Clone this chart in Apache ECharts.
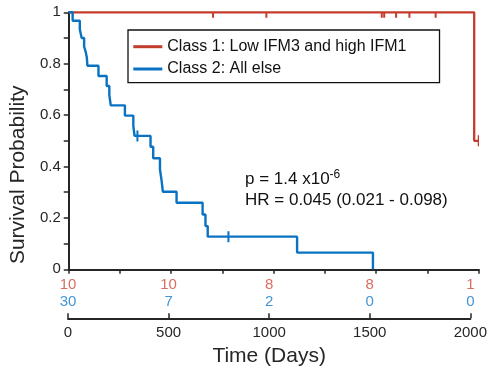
<!DOCTYPE html>
<html>
<head>
<meta charset="utf-8">
<script src="https://cdn.jsdelivr.net/npm/echarts@6/dist/echarts.min.js"></script>
<style>
html,body{margin:0;padding:0;background:#fff;}
#chart{width:490px;height:370px;}
</style>
</head>
<body>
<div id="chart"></div>
<script>
// ---- data ----
var class1Name = 'Class 1: Low IFM3 and high IFM1';
var class2Name = 'Class 2: All else';
// Kaplan-Meier step points [time (days), survival]
var class1Curve = [[0, 1], [1978, 0.5], [2000, 0.5]];
var class2Curve = [
  [0, 1], [19, 0.967], [54, 0.933], [63, 0.9], [75, 0.867], [83, 0.845], [88, 0.825], [91, 0.792],
  [145, 0.752], [185, 0.713], [198, 0.678], [205, 0.638], [274, 0.598], [315, 0.558], [321, 0.519],
  [399, 0.477], [412, 0.432], [445, 0.389], [453, 0.345], [459, 0.302], [526, 0.259],
  [653, 0.213], [667, 0.168], [678, 0.127], [1114, 0.065], [1484, 0]
];
// censored observations [time, survival]
var class1Censor = [[704, 1], [964, 1], [1527, 1], [1539, 1], [1597, 1], [1662, 1], [1790, 1], [2000, 0.5]];
var class2Censor = [[335, 0.519], [779, 0.127]];
// number at risk table
var riskTimes = [0, 500, 1000, 1500, 2000];
var riskClass1 = [10, 10, 8, 8, 1];
var riskClass2 = [30, 7, 2, 0, 0];
var riskRows = ['Class 2', 'Class 1'];

var RED = '#c43c2c';
var BLUE = '#0a72c2';
var AX = '#262626';
var FONT = '"Liberation Sans", Arial, sans-serif';

function censorSeries(name, data, color) {
  return {
    name: name, type: 'custom', xAxisIndex: 0, yAxisIndex: 0, clip: true,
    data: data, encode: {x: 0, y: 1}, z: 3,
    renderItem: function (params, api) {
      var p = api.coord([api.value(0), api.value(1)]);
      return {type: 'line', shape: {x1: p[0], y1: p[1] - 5.5, x2: p[0], y2: p[1] + 5.5},
        style: {stroke: color, lineWidth: 2}};
    }
  };
}
function riskSeries(name, row, values, color) {
  return {
    name: name, type: 'scatter', xAxisIndex: 1, yAxisIndex: 1, clip: false,
    symbolSize: 1, itemStyle: {color: 'transparent'},
    data: riskTimes.map(function (t, i) { return [t, row, values[i]]; }),
    label: {show: true, position: 'inside', formatter: function (p) { return String(p.value[2]); },
      color: color, fontSize: 15, fontFamily: FONT},
    emphasis: {disabled: true}
  };
}

var chart = echarts.init(document.getElementById('chart'), null, {renderer: 'canvas'});
chart.setOption({
  animation: false,
  textStyle: {fontFamily: FONT},
  grid: [
    {left: 68, right: 11.3, top: 12.3, height: 257},
    {left: 68, right: 11.3, top: 276.6, height: 33.4}
  ],
  legend: {
    data: [class1Name, class2Name],
    orient: 'vertical', left: 128, top: 30,
    padding: [8.7, 33, 5.7, 5.3], itemGap: 6.3,
    itemWidth: 29, itemHeight: 3, icon: 'rect',
    backgroundColor: '#fff', borderColor: '#111', borderWidth: 1.3,
    textStyle: {fontSize: 16, lineHeight: 16, color: '#111', fontFamily: FONT},
    selectedMode: false
  },
  xAxis: [
    {type: 'value', gridIndex: 0, min: 0, max: 2000, interval: 250,
      axisLine: {show: true, onZero: false, lineStyle: {color: AX, width: 2}},
      axisTick: {show: true, length: 4.5, lineStyle: {color: AX, width: 1.5}},
      axisLabel: {show: false}, splitLine: {show: false}},
    {type: 'value', gridIndex: 1, min: 0, max: 2000, interval: 500, offset: 8.3,
      axisLine: {show: true, onZero: false, lineStyle: {color: AX, width: 2}},
      axisTick: {show: true, inside: true, length: 5, lineStyle: {color: AX, width: 1.5}},
      axisLabel: {show: true, margin: 7, fontSize: 15, color: AX, fontFamily: FONT,
        formatter: function (v) { return String(v); }},
      splitLine: {show: false},
      name: 'Time (Days)', nameLocation: 'middle', nameGap: 27,
      nameTextStyle: {fontSize: 21, color: AX, fontFamily: FONT}}
  ],
  yAxis: [
    {type: 'value', gridIndex: 0, min: 0, max: 1, interval: 0.1,
      axisLine: {show: true, lineStyle: {color: AX, width: 2}},
      axisTick: {show: true, length: 5, lineStyle: {color: AX, width: 1.5}},
      axisLabel: {margin: 8, fontSize: 15, color: AX, fontFamily: FONT,
        formatter: function (v) { var k = Math.round(v * 10); return k % 2 === 0 ? String(k / 10) : ''; }},
      splitLine: {show: false},
      name: 'Survival Probability', nameLocation: 'middle', nameGap: 36,
      nameTextStyle: {fontSize: 21, color: AX, fontFamily: FONT, padding: [0, 68, 0, 0]}},
    {type: 'category', gridIndex: 1, data: riskRows, show: false}
  ],
  series: [
    {name: class1Name, type: 'line', step: 'end', data: class1Curve, showSymbol: false, symbol: 'none',
      clip: false, color: RED, lineStyle: {color: RED, width: 2.3}, z: 2},
    {name: class2Name, type: 'line', step: 'end', data: class2Curve, showSymbol: false, symbol: 'none',
      clip: false, color: BLUE, lineStyle: {color: BLUE, width: 2.4}, z: 2},
    censorSeries('c1censor', class1Censor, RED),
    censorSeries('c2censor', class2Censor, BLUE),
    riskSeries('risk1', 'Class 1', riskClass1, '#cf4a37'),
    riskSeries('risk2', 'Class 2', riskClass2, '#1479c9')
  ],
  graphic: [
    {type: 'text', left: 245, top: 168.7, z: 10,
      style: {text: '{a|p = 1.4 x10}{s|-6}', fill: '#111',
        rich: {a: {fontSize: 17, fontFamily: FONT, fill: '#111', padding: [2, 0, 0, 0]},
               s: {fontSize: 12, fontFamily: FONT, fill: '#111', verticalAlign: 'top'}}}},
    {type: 'text', left: 245, top: 191.8, z: 10,
      style: {text: 'HR = 0.045 (0.021 - 0.098)', fill: '#111', fontSize: 17, fontFamily: FONT}},
    {type: 'text', left: -1, top: -16, z: 10,
      style: {text: 'C', fill: '#222', fontSize: 20, fontWeight: 'bold', fontFamily: FONT}}
  ]
});
</script>
</body>
</html>
